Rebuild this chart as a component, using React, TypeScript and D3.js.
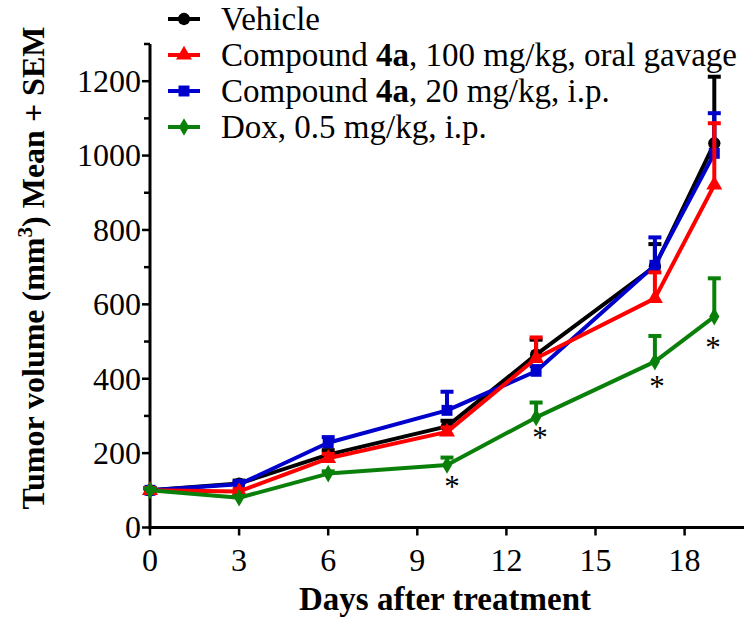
import React from "react";
import * as d3 from "d3";

const days = [0, 3, 6, 10, 13, 17, 19];
const vehicle = [100, 118, 196, 272, 465, 702, 1033];
const vehicleSem = [6, 8, 12, 15, 40, 60, 179];
const oral = [100, 97, 186, 257, 455, 616, 921];
const oralSem = [6, 6, 12, 12, 56, 70, 166];
const ip = [100, 116, 228, 315, 420, 705, 1006];
const ipSem = [6, 6, 15, 50, 14, 75, 108];
const dox = [100, 80, 145, 168, 296, 446, 567];
const doxSem = [5, 5, 6, 20, 40, 69, 103];
const starDays = [10.17, 13.13, 17.07, 18.96];
const starValues = [120, 254, 391, 496];
const yTicks = [0, 200, 400, 600, 800, 1000, 1200];
const yMinor = [100, 300, 500, 700, 900, 1100, 1300];
const xTicks = [0, 3, 6, 9, 12, 15, 18];

const W = 751, H = 625;
const x = d3.scaleLinear().domain([0, 20]).range([150, 744]);
const y = d3.scaleLinear().domain([0, 1300]).range([527.5, 44]);

type S = { name: string; bold?: [string, string, string]; color: string; vals: number[]; sem: number[]; marker: string };
const series: S[] = [
  { name: "Vehicle", color: "#000000", vals: vehicle, sem: vehicleSem, marker: "circle" },
  { name: "", bold: ["Compound ", "4a", ", 20 mg/kg, i.p."], color: "#0000cc", vals: ip, sem: ipSem, marker: "square" },
  { name: "", bold: ["Compound ", "4a", ", 100 mg/kg, oral gavage"], color: "#ff0000", vals: oral, sem: oralSem, marker: "triangle" },
  { name: "Dox, 0.5 mg/kg, i.p.", color: "#0a800a", vals: dox, sem: doxSem, marker: "diamond" },
];
const legendOrder = [0, 2, 1, 3];

const FONT = "Liberation Serif";

function Marker({ type, cx, cy, color }: { type: string; cx: number; cy: number; color: string }) {
  const sym = type === "circle" ? d3.symbolCircle : type === "square" ? d3.symbolSquare : type === "triangle" ? d3.symbolTriangle : d3.symbolDiamond;
  const size = type === "diamond" ? 90 : type === "triangle" ? 110 : 120;
  return <path d={d3.symbol(sym, size)() || ""} transform={`translate(${cx},${cy})`} fill={color} />;
}

export default function App() {
  const line = d3.line<number>().x((_, i) => x(days[i])).y((v) => y(v));
  const ts = { fontFamily: FONT };
  return (
    <svg width={W} height={H} style={{ position: "absolute", left: 0, top: 0, background: "#fff", fontFamily: FONT }}>
      {/* axes */}
      <line x1={x(0)} x2={x(0)} y1={y(1300)} y2={y(0) + 1.5} stroke="#000" strokeWidth={3} />
      <line x1={x(0) - 1.5} x2={x(20)} y1={y(0)} y2={y(0)} stroke="#000" strokeWidth={3} />
      {yTicks.map((t) => (
        <g key={"y" + t}>
          <line x1={x(0) - 8} x2={x(0)} y1={y(t)} y2={y(t)} stroke="#000" strokeWidth={2.5} />
          <text style={ts} x={x(0) - 9} y={y(t)} dy="0.34em" textAnchor="end" fontSize={32}>{t}</text>
        </g>
      ))}
      {yMinor.map((t) => (
        <line key={"ym" + t} x1={x(0) - 6} x2={x(0)} y1={y(t)} y2={y(t)} stroke="#000" strokeWidth={2.5} />
      ))}
      {xTicks.map((t) => (
        <g key={"x" + t}>
          <line x1={x(t)} x2={x(t)} y1={y(0)} y2={y(0) + 8} stroke="#000" strokeWidth={2.5} />
          <text style={ts} x={x(t)} y={571} textAnchor="middle" fontSize={32}>{t}</text>
        </g>
      ))}
      <text style={ts} x={445} y={610} textAnchor="middle" fontSize={33} fontWeight="bold">Days after treatment</text>
      <text style={ts} transform={`translate(44,${268}) rotate(-90)`} textAnchor="middle" fontSize={32} fontWeight="bold">
        Tumor volume (mm<tspan dy={-12} fontSize={21}>3</tspan><tspan dy={12}>) Mean + SEM</tspan>
      </text>
      {/* series */}
      {series.map((s) => (
        <g key={s.color}>
          <path d={line(s.vals) || ""} fill="none" stroke={s.color} strokeWidth={4} strokeLinejoin="round" />
          {s.vals.map((v, i) => (
            <g key={i}>
              <line x1={x(days[i])} x2={x(days[i])} y1={y(v)} y2={y(v + s.sem[i])} stroke={s.color} strokeWidth={4} />
              <line x1={x(days[i]) - 6.5} x2={x(days[i]) + 6.5} y1={y(v + s.sem[i])} y2={y(v + s.sem[i])} stroke={s.color} strokeWidth={4} />
              <Marker type={s.marker} cx={x(days[i])} cy={y(v)} color={s.color} />
            </g>
          ))}
        </g>
      ))}
      {starDays.map((d, i) => (
        <text style={ts} key={"s" + i} x={x(d)} y={y(starValues[i])} dy="0.47em" textAnchor="middle" fontSize={31}>*</text>
      ))}
      {/* legend */}
      {legendOrder.map((si, r) => {
        const s = series[si];
        const cy = 19 + r * 36;
        return (
          <g key={"l" + r}>
            <line x1={168} x2={200} y1={cy} y2={cy} stroke={s.color} strokeWidth={4} />
            <Marker type={s.marker} cx={184} cy={cy} color={s.color} />
            <text style={ts} x={221} y={cy} dy="0.33em" fontSize={33}>
              {s.bold ? (
                <>
                  {s.bold[0]}
                  <tspan fontWeight="bold">{s.bold[1]}</tspan>
                  {s.bold[2]}
                </>
              ) : (
                s.name
              )}
            </text>
          </g>
        );
      })}
    </svg>
  );
}
